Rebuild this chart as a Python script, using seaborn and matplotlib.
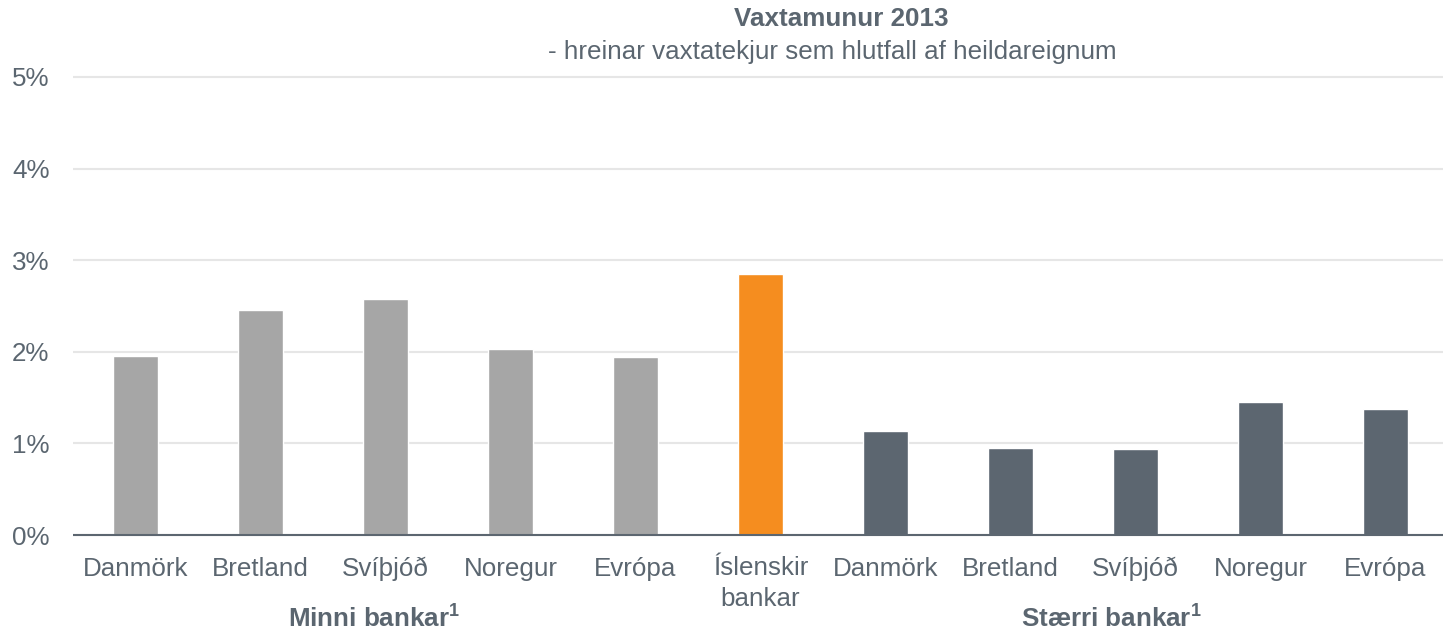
import matplotlib
matplotlib.use("Agg")
import matplotlib.pyplot as plt
import matplotlib.transforms as mtransforms
import seaborn as sns
import pandas as pd
from matplotlib.ticker import FuncFormatter

# ---- data ----
labels = ["Danmörk", "Bretland", "Svíþjóð", "Noregur", "Evrópa", "Íslenskir\nbankar",
          "Danmörk", "Bretland", "Svíþjóð", "Noregur", "Evrópa"]
groups = ["Minni"] * 5 + ["Ísland"] + ["Stærri"] * 5
values = [1.95, 2.46, 2.58, 2.03, 1.94, 2.85, 1.14, 0.95, 0.935, 1.45, 1.38]
yticks = [0, 1, 2, 3, 4, 5]
title = "Vaxtamunur 2013"
subtitle = "- hreinar vaxtatekjur sem hlutfall af heildareignum"
group_labels = ["Minni bankar$^{\\mathbf{1}}$", "Stærri bankar$^{\\mathbf{1}}$"]
group_label_pos = [1.91, 7.81]

colors = {"Minni": "#A6A6A6", "Ísland": "#F58D1F", "Stærri": "#5C6670"}
text_color = "#5B6670"

sns.set_theme(style="white")
plt.rcParams["font.family"] = ["Liberation Sans", "DejaVu Sans"]
plt.rcParams["mathtext.fontset"] = "custom"
plt.rcParams["mathtext.rm"] = "Liberation Sans"
plt.rcParams["mathtext.bf"] = "Liberation Sans:bold"

W, H = 1443, 632
fig = plt.figure(figsize=(W / 100, H / 100), dpi=100)
ax = fig.add_axes([73 / W, (H - 539.6) / H, 1370 / W, 467.2 / H])

df = pd.DataFrame({"key": [str(i) for i in range(len(labels))],
                   "value": values, "group": groups})
sns.barplot(data=df, x="key", y="value", hue="group", palette=colors,
            dodge=False, width=0.36, legend=False, ax=ax, saturation=1)

ax.set_xlim(-0.5, -0.5 + 1370 / 125)
ax.set_ylim(-0.05, 5.05)
ax.set_yticks(yticks)
ax.yaxis.set_major_formatter(FuncFormatter(lambda v, p: f"{v:.0f}%"))
ax.set_xticks(range(len(labels)))
ax.set_xticklabels(labels, linespacing=1.35)
ax.set_xlabel("")
ax.set_ylabel("")

ax.tick_params(axis="both", length=0, labelsize=18.7, colors=text_color)
ax.tick_params(axis="x", pad=26.2)
ax.tick_params(axis="y", pad=17)
for lbl in ax.get_xticklabels():
    lbl.set_verticalalignment("baseline")
    n_extra = lbl.get_text().count("\n")
    if n_extra:
        lbl.set_transform(lbl.get_transform() +
                          mtransforms.ScaledTranslation(0, -0.30 * n_extra,
                                                        fig.dpi_scale_trans))
for s in ax.spines.values():
    s.set_visible(False)

ax.set_axisbelow(True)
ax.yaxis.grid(True, color="#E6E6E6", lw=1.5)
ax.axhline(0, color="#5C6670", lw=1.5, zorder=5)

fig.text(841 / W, 1 - 18.5 / H, title, ha="center", va="center",
         fontsize=18.7, fontweight="bold", color=text_color)
fig.text(832 / W, 1 - 52 / H, subtitle, ha="center", va="center",
         fontsize=18.7, color=text_color)

trans = mtransforms.blended_transform_factory(ax.transData, fig.transFigure)
for lab, xp in zip(group_labels, group_label_pos):
    ax.text(xp, 1 - 627 / H, lab, transform=trans, ha="center", va="baseline",
            fontsize=18.7, fontweight="bold", color=text_color)

fig.savefig("out.png", dpi=100)
